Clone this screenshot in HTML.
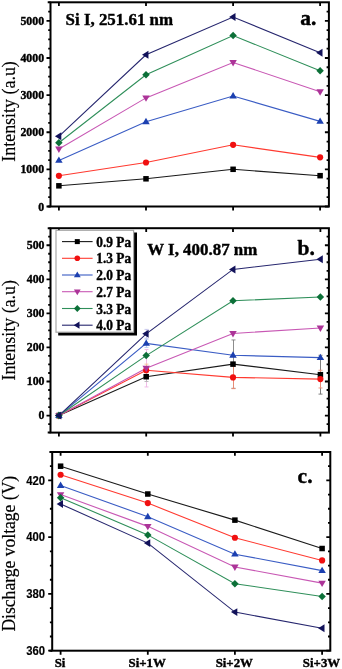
<!DOCTYPE html>
<html><head><meta charset="utf-8"><style>
html,body{margin:0;padding:0;background:#fff;width:342px;height:669px;overflow:hidden}
svg{display:block;will-change:transform}
.b{font-weight:bold;stroke:#000;stroke-width:0.4px;paint-order:stroke}
.r{stroke:#000;stroke-width:0.2px}
.bs{font-weight:bold;stroke:#000;stroke-width:0.15px}
</style></head><body>
<svg width="342" height="669" viewBox="0 0 342 669">
<rect width="342" height="669" fill="#fff"/>
<polyline points="58.90,185.82 146.00,178.80 233.10,169.30 320.10,175.68" fill="none" stroke="#1a1a1a" stroke-width="1.1"/>
<polyline points="58.90,175.80 146.00,162.50 233.10,144.83 320.10,157.34" fill="none" stroke="#ff3a30" stroke-width="1.1"/>
<polyline points="58.90,160.43 146.00,121.81 233.10,96.01 320.10,121.40" fill="none" stroke="#3a5cc4" stroke-width="1.1"/>
<polyline points="58.90,148.92 146.00,97.90 233.10,62.52 320.10,91.70" fill="none" stroke="#c858b4" stroke-width="1.1"/>
<polyline points="58.90,142.79 146.00,74.70 233.10,35.53 320.10,70.73" fill="none" stroke="#2f8f5a" stroke-width="1.1"/>
<polyline points="58.90,136.33 146.00,54.80 233.10,17.04 320.10,52.72" fill="none" stroke="#26266e" stroke-width="1.1"/>
<rect x="56.15" y="183.07" width="5.50" height="5.50" fill="#000000"/>
<rect x="143.25" y="176.05" width="5.50" height="5.50" fill="#000000"/>
<rect x="230.35" y="166.55" width="5.50" height="5.50" fill="#000000"/>
<rect x="317.35" y="172.93" width="5.50" height="5.50" fill="#000000"/>
<circle cx="58.90" cy="175.80" r="3.08" fill="#f01010"/>
<circle cx="146.00" cy="162.50" r="3.08" fill="#f01010"/>
<circle cx="233.10" cy="144.83" r="3.08" fill="#f01010"/>
<circle cx="320.10" cy="157.34" r="3.08" fill="#f01010"/>
<path d="M58.90,156.47 L62.64,162.85 L55.16,162.85Z" fill="#1c40b0"/>
<path d="M146.00,117.85 L149.74,124.23 L142.26,124.23Z" fill="#1c40b0"/>
<path d="M233.10,92.05 L236.84,98.43 L229.36,98.43Z" fill="#1c40b0"/>
<path d="M320.10,117.44 L323.84,123.82 L316.36,123.82Z" fill="#1c40b0"/>
<path d="M58.90,152.88 L62.64,146.50 L55.16,146.50Z" fill="#ac3498"/>
<path d="M146.00,101.86 L149.74,95.48 L142.26,95.48Z" fill="#ac3498"/>
<path d="M233.10,66.48 L236.84,60.10 L229.36,60.10Z" fill="#ac3498"/>
<path d="M320.10,95.66 L323.84,89.28 L316.36,89.28Z" fill="#ac3498"/>
<path d="M58.90,139.05 L62.64,142.79 L58.90,146.53 L55.16,142.79Z" fill="#0c7038"/>
<path d="M146.00,70.96 L149.74,74.70 L146.00,78.44 L142.26,74.70Z" fill="#0c7038"/>
<path d="M233.10,31.79 L236.84,35.53 L233.10,39.27 L229.36,35.53Z" fill="#0c7038"/>
<path d="M320.10,66.99 L323.84,70.73 L320.10,74.47 L316.36,70.73Z" fill="#0c7038"/>
<path d="M54.94,136.33 L61.32,132.37 L61.32,140.29Z" fill="#12125a"/>
<path d="M142.04,54.80 L148.42,50.84 L148.42,58.76Z" fill="#12125a"/>
<path d="M229.14,17.04 L235.52,13.08 L235.52,21.00Z" fill="#12125a"/>
<path d="M316.14,52.72 L322.52,48.76 L322.52,56.68Z" fill="#12125a"/>
<rect x="50.50" y="2.30" width="278.40" height="204.20" fill="none" stroke="#000" stroke-width="2.0"/>
<path d="M47.70,2.30H50.5M47.70,206.50H50.5" stroke="#000" stroke-width="2.0"/>
<path d="M58.90,206.50v4.0M58.90,2.30v3.7M146.00,206.50v4.0M146.00,2.30v3.7M233.10,206.50v4.0M233.10,2.30v3.7M320.10,206.50v4.0M320.10,2.30v3.7M50.50,206.50h-4.0M328.90,206.50h-4.0M50.50,169.37h-4.0M328.90,169.37h-4.0M50.50,132.25h-4.0M328.90,132.25h-4.0M50.50,95.12h-4.0M328.90,95.12h-4.0M50.50,57.99h-4.0M328.90,57.99h-4.0M50.50,20.86h-4.0M328.90,20.86h-4.0M50.50,197.22h-2.3M328.90,197.22h-2.3M50.50,187.94h-2.3M328.90,187.94h-2.3M50.50,178.65h-2.3M328.90,178.65h-2.3M50.50,160.09h-2.3M328.90,160.09h-2.3M50.50,150.81h-2.3M328.90,150.81h-2.3M50.50,141.53h-2.3M328.90,141.53h-2.3M50.50,122.96h-2.3M328.90,122.96h-2.3M50.50,113.68h-2.3M328.90,113.68h-2.3M50.50,104.40h-2.3M328.90,104.40h-2.3M50.50,85.84h-2.3M328.90,85.84h-2.3M50.50,76.55h-2.3M328.90,76.55h-2.3M50.50,67.27h-2.3M328.90,67.27h-2.3M50.50,48.71h-2.3M328.90,48.71h-2.3M50.50,39.43h-2.3M328.90,39.43h-2.3M50.50,30.15h-2.3M328.90,30.15h-2.3M50.50,11.58h-2.3M328.90,11.58h-2.3" stroke="#000" stroke-width="1.8" fill="none"/>
<text transform="translate(44.1,210.50) scale(0.92,1)" text-anchor="end" font-family='"Liberation Serif", serif' class="b" font-size="12.9">0</text>
<text transform="translate(44.1,173.37) scale(0.92,1)" text-anchor="end" font-family='"Liberation Serif", serif' class="b" font-size="12.9">1000</text>
<text transform="translate(44.1,136.25) scale(0.92,1)" text-anchor="end" font-family='"Liberation Serif", serif' class="b" font-size="12.9">2000</text>
<text transform="translate(44.1,99.12) scale(0.92,1)" text-anchor="end" font-family='"Liberation Serif", serif' class="b" font-size="12.9">3000</text>
<text transform="translate(44.1,61.99) scale(0.92,1)" text-anchor="end" font-family='"Liberation Serif", serif' class="b" font-size="12.9">4000</text>
<text transform="translate(44.1,24.86) scale(0.92,1)" text-anchor="end" font-family='"Liberation Serif", serif' class="b" font-size="12.9">5000</text>
<text transform="translate(14.95,111.45) rotate(-90) scale(0.91,1)" class="r" text-anchor="middle" font-family='"Liberation Serif", serif' font-size="19.7">Intensity (a.u)</text>
<text x="65.6" y="24.8" font-family='"Liberation Serif", serif' class="b" font-size="16.9">Si I, 251.61 nm</text>
<text x="300.3" y="24.8" font-family='"Liberation Serif", serif' class="b" font-size="21.5">a.</text>
<polyline points="58.90,415.57 146.20,376.73 233.00,364.13 320.40,374.69" fill="none" stroke="#1a1a1a" stroke-width="1.1"/>
<polyline points="58.90,415.57 146.20,370.26 233.00,377.41 320.40,379.12" fill="none" stroke="#ff3a30" stroke-width="1.1"/>
<polyline points="58.90,415.57 146.20,343.35 233.00,355.27 320.40,357.65" fill="none" stroke="#3a5cc4" stroke-width="1.1"/>
<polyline points="58.90,415.57 146.20,368.21 233.00,333.47 320.40,328.02" fill="none" stroke="#c858b4" stroke-width="1.1"/>
<polyline points="58.90,415.57 146.20,355.61 233.00,300.76 320.40,297.01" fill="none" stroke="#2f8f5a" stroke-width="1.1"/>
<polyline points="58.90,415.57 146.20,333.81 233.00,269.42 320.40,259.20" fill="none" stroke="#26266e" stroke-width="1.1"/>
<path d="M146.50,329.38V338.24M144.50,329.38h4M144.50,338.24h4" stroke="#c4c4ec" stroke-width="0.9" fill="none"/>
<path d="M146.50,339.26V347.43M144.50,339.26h4M144.50,347.43h4" stroke="#b8c8f0" stroke-width="0.9" fill="none"/>
<path d="M146.50,349.48V386.95M144.50,349.48h4M144.50,386.95h4" stroke="#eeb4e4" stroke-width="0.9" fill="none"/>
<path d="M146.50,364.13V376.39M144.50,364.13h4M144.50,376.39h4" stroke="#f8c098" stroke-width="0.9" fill="none"/>
<path d="M146.50,371.96V381.50M144.50,371.96h4M144.50,381.50h4" stroke="#b4b4b4" stroke-width="0.9" fill="none"/>
<path d="M233.50,339.94V388.31M231.50,339.94h4M231.50,388.31h4" stroke="#808080" stroke-width="0.9" fill="none"/>
<path d="M233.50,366.17V388.65M231.50,366.17h4M231.50,388.65h4" stroke="#f08c74" stroke-width="0.9" fill="none"/>
<path d="M320.50,355.27V394.10M318.50,355.27h4M318.50,394.10h4" stroke="#707070" stroke-width="0.9" fill="none"/>
<path d="M320.50,370.26V387.97M318.50,370.26h4M318.50,387.97h4" stroke="#f09078" stroke-width="0.9" fill="none"/>
<rect x="56.15" y="412.82" width="5.50" height="5.50" fill="#000000"/>
<rect x="143.45" y="373.98" width="5.50" height="5.50" fill="#000000"/>
<rect x="230.25" y="361.38" width="5.50" height="5.50" fill="#000000"/>
<rect x="317.65" y="371.94" width="5.50" height="5.50" fill="#000000"/>
<circle cx="58.90" cy="415.57" r="3.08" fill="#f01010"/>
<circle cx="146.20" cy="370.26" r="3.08" fill="#f01010"/>
<circle cx="233.00" cy="377.41" r="3.08" fill="#f01010"/>
<circle cx="320.40" cy="379.12" r="3.08" fill="#f01010"/>
<path d="M58.90,411.61 L62.64,417.99 L55.16,417.99Z" fill="#1c40b0"/>
<path d="M146.20,339.39 L149.94,345.77 L142.46,345.77Z" fill="#1c40b0"/>
<path d="M233.00,351.31 L236.74,357.69 L229.26,357.69Z" fill="#1c40b0"/>
<path d="M320.40,353.69 L324.14,360.07 L316.66,360.07Z" fill="#1c40b0"/>
<path d="M58.90,419.53 L62.64,413.15 L55.16,413.15Z" fill="#ac3498"/>
<path d="M146.20,372.17 L149.94,365.79 L142.46,365.79Z" fill="#ac3498"/>
<path d="M233.00,337.43 L236.74,331.05 L229.26,331.05Z" fill="#ac3498"/>
<path d="M320.40,331.98 L324.14,325.60 L316.66,325.60Z" fill="#ac3498"/>
<path d="M58.90,411.83 L62.64,415.57 L58.90,419.31 L55.16,415.57Z" fill="#0c7038"/>
<path d="M146.20,351.87 L149.94,355.61 L146.20,359.35 L142.46,355.61Z" fill="#0c7038"/>
<path d="M233.00,297.02 L236.74,300.76 L233.00,304.50 L229.26,300.76Z" fill="#0c7038"/>
<path d="M320.40,293.27 L324.14,297.01 L320.40,300.75 L316.66,297.01Z" fill="#0c7038"/>
<path d="M54.94,415.57 L61.32,411.61 L61.32,419.53Z" fill="#12125a"/>
<path d="M142.24,333.81 L148.62,329.85 L148.62,337.77Z" fill="#12125a"/>
<path d="M229.04,269.42 L235.42,265.46 L235.42,273.38Z" fill="#12125a"/>
<path d="M316.44,259.20 L322.82,255.24 L322.82,263.16Z" fill="#12125a"/>
<rect x="50.50" y="228.20" width="278.40" height="204.40" fill="none" stroke="#000" stroke-width="2.0"/>
<path d="M47.70,228.20H50.5M47.70,432.60H50.5" stroke="#000" stroke-width="2.0"/>
<path d="M58.90,432.60v4.0M58.90,228.20v3.7M146.20,432.60v4.0M146.20,228.20v3.7M233.00,432.60v4.0M233.00,228.20v3.7M320.40,432.60v4.0M320.40,228.20v3.7M50.50,415.57h-4.0M328.90,415.57h-4.0M50.50,381.50h-4.0M328.90,381.50h-4.0M50.50,347.43h-4.0M328.90,347.43h-4.0M50.50,313.37h-4.0M328.90,313.37h-4.0M50.50,279.30h-4.0M328.90,279.30h-4.0M50.50,245.23h-4.0M328.90,245.23h-4.0M50.50,424.08h-2.3M328.90,424.08h-2.3M50.50,407.05h-2.3M328.90,407.05h-2.3M50.50,398.53h-2.3M328.90,398.53h-2.3M50.50,390.02h-2.3M328.90,390.02h-2.3M50.50,372.98h-2.3M328.90,372.98h-2.3M50.50,364.47h-2.3M328.90,364.47h-2.3M50.50,355.95h-2.3M328.90,355.95h-2.3M50.50,338.92h-2.3M328.90,338.92h-2.3M50.50,330.40h-2.3M328.90,330.40h-2.3M50.50,321.88h-2.3M328.90,321.88h-2.3M50.50,304.85h-2.3M328.90,304.85h-2.3M50.50,296.33h-2.3M328.90,296.33h-2.3M50.50,287.82h-2.3M328.90,287.82h-2.3M50.50,270.78h-2.3M328.90,270.78h-2.3M50.50,262.27h-2.3M328.90,262.27h-2.3M50.50,253.75h-2.3M328.90,253.75h-2.3M50.50,236.72h-2.3M328.90,236.72h-2.3" stroke="#000" stroke-width="1.8" fill="none"/>
<text transform="translate(44.5,419.27) scale(0.92,1)" text-anchor="end" font-family='"Liberation Serif", serif' class="b" font-size="12.9">0</text>
<text transform="translate(44.5,385.20) scale(0.92,1)" text-anchor="end" font-family='"Liberation Serif", serif' class="b" font-size="12.9">100</text>
<text transform="translate(44.5,351.13) scale(0.92,1)" text-anchor="end" font-family='"Liberation Serif", serif' class="b" font-size="12.9">200</text>
<text transform="translate(44.5,317.07) scale(0.92,1)" text-anchor="end" font-family='"Liberation Serif", serif' class="b" font-size="12.9">300</text>
<text transform="translate(44.5,283.00) scale(0.92,1)" text-anchor="end" font-family='"Liberation Serif", serif' class="b" font-size="12.9">400</text>
<text transform="translate(44.5,248.93) scale(0.92,1)" text-anchor="end" font-family='"Liberation Serif", serif' class="b" font-size="12.9">500</text>
<text transform="translate(14.9,330.3) rotate(-90) scale(0.91,1)" class="r" text-anchor="middle" font-family='"Liberation Serif", serif' font-size="19.7">Intensity (a.u)</text>
<text x="147.3" y="254.9" font-family='"Liberation Serif", serif' class="b" font-size="16.9">W I, 400.87 nm</text>
<text x="297.6" y="255.3" font-family='"Liberation Serif", serif' class="b" font-size="21.5">b.</text>
<polyline points="60.60,466.19 147.80,494.01 234.90,520.13 322.10,548.51" fill="none" stroke="#1a1a1a" stroke-width="1.1"/>
<polyline points="60.60,474.71 147.80,503.09 234.90,537.72 322.10,560.43" fill="none" stroke="#ff3a30" stroke-width="1.1"/>
<polyline points="60.60,485.50 147.80,516.72 234.90,554.19 322.10,570.65" fill="none" stroke="#3a5cc4" stroke-width="1.1"/>
<polyline points="60.60,494.58 147.80,526.37 234.90,566.96 322.10,583.14" fill="none" stroke="#c858b4" stroke-width="1.1"/>
<polyline points="60.60,497.70 147.80,534.89 234.90,583.71 322.10,596.48" fill="none" stroke="#2f8f5a" stroke-width="1.1"/>
<polyline points="60.60,503.95 147.80,543.12 234.90,612.10 322.10,628.28" fill="none" stroke="#26266e" stroke-width="1.1"/>
<rect x="57.85" y="463.44" width="5.50" height="5.50" fill="#000000"/>
<rect x="145.05" y="491.26" width="5.50" height="5.50" fill="#000000"/>
<rect x="232.15" y="517.38" width="5.50" height="5.50" fill="#000000"/>
<rect x="319.35" y="545.76" width="5.50" height="5.50" fill="#000000"/>
<circle cx="60.60" cy="474.71" r="3.08" fill="#f01010"/>
<circle cx="147.80" cy="503.09" r="3.08" fill="#f01010"/>
<circle cx="234.90" cy="537.72" r="3.08" fill="#f01010"/>
<circle cx="322.10" cy="560.43" r="3.08" fill="#f01010"/>
<path d="M60.60,481.54 L64.34,487.92 L56.86,487.92Z" fill="#1c40b0"/>
<path d="M147.80,512.76 L151.54,519.14 L144.06,519.14Z" fill="#1c40b0"/>
<path d="M234.90,550.23 L238.64,556.61 L231.16,556.61Z" fill="#1c40b0"/>
<path d="M322.10,566.69 L325.84,573.07 L318.36,573.07Z" fill="#1c40b0"/>
<path d="M60.60,498.54 L64.34,492.16 L56.86,492.16Z" fill="#ac3498"/>
<path d="M147.80,530.33 L151.54,523.95 L144.06,523.95Z" fill="#ac3498"/>
<path d="M234.90,570.92 L238.64,564.54 L231.16,564.54Z" fill="#ac3498"/>
<path d="M322.10,587.10 L325.84,580.72 L318.36,580.72Z" fill="#ac3498"/>
<path d="M60.60,493.96 L64.34,497.70 L60.60,501.44 L56.86,497.70Z" fill="#0c7038"/>
<path d="M147.80,531.15 L151.54,534.89 L147.80,538.63 L144.06,534.89Z" fill="#0c7038"/>
<path d="M234.90,579.97 L238.64,583.71 L234.90,587.45 L231.16,583.71Z" fill="#0c7038"/>
<path d="M322.10,592.74 L325.84,596.48 L322.10,600.22 L318.36,596.48Z" fill="#0c7038"/>
<path d="M56.64,503.95 L63.02,499.99 L63.02,507.91Z" fill="#12125a"/>
<path d="M143.84,543.12 L150.22,539.16 L150.22,547.08Z" fill="#12125a"/>
<path d="M230.94,612.10 L237.32,608.14 L237.32,616.06Z" fill="#12125a"/>
<path d="M318.14,628.28 L324.52,624.32 L324.52,632.24Z" fill="#12125a"/>
<rect x="52.20" y="452.00" width="278.10" height="198.70" fill="none" stroke="#000" stroke-width="2.0"/>
<path d="M49.40,452.00H52.2M49.40,650.70H52.2" stroke="#000" stroke-width="2.0"/>
<path d="M60.60,650.70v4.0M60.60,452.00v3.7M147.80,650.70v4.0M147.80,452.00v3.7M234.90,650.70v4.0M234.90,452.00v3.7M322.10,650.70v4.0M322.10,452.00v3.7M52.20,650.70h-4.0M330.30,650.70h-4.0M52.20,593.93h-4.0M330.30,593.93h-4.0M52.20,537.16h-4.0M330.30,537.16h-4.0M52.20,480.39h-4.0M330.30,480.39h-4.0M52.20,636.51h-2.3M330.30,636.51h-2.3M52.20,622.31h-2.3M330.30,622.31h-2.3M52.20,608.12h-2.3M330.30,608.12h-2.3M52.20,579.74h-2.3M330.30,579.74h-2.3M52.20,565.54h-2.3M330.30,565.54h-2.3M52.20,551.35h-2.3M330.30,551.35h-2.3M52.20,522.96h-2.3M330.30,522.96h-2.3M52.20,508.77h-2.3M330.30,508.77h-2.3M52.20,494.58h-2.3M330.30,494.58h-2.3M52.20,466.19h-2.3M330.30,466.19h-2.3" stroke="#000" stroke-width="1.8" fill="none"/>
<text transform="translate(45.0,655.00) scale(0.95,1)" text-anchor="end" font-family='"Liberation Sans", sans-serif' class="bs" font-size="11.9">360</text>
<text transform="translate(45.0,598.23) scale(0.95,1)" text-anchor="end" font-family='"Liberation Sans", sans-serif' class="bs" font-size="11.9">380</text>
<text transform="translate(45.0,541.46) scale(0.95,1)" text-anchor="end" font-family='"Liberation Sans", sans-serif' class="bs" font-size="11.9">400</text>
<text transform="translate(45.0,484.69) scale(0.95,1)" text-anchor="end" font-family='"Liberation Sans", sans-serif' class="bs" font-size="11.9">420</text>
<text transform="translate(14.8,553.7) rotate(-90) scale(0.893,1)" class="r" text-anchor="middle" font-family='"Liberation Serif", serif' font-size="19.7">Discharge voltage (V)</text>
<text x="297.6" y="482.6" font-family='"Liberation Serif", serif' class="b" font-size="21.5">c.</text>
<rect x="58.2" y="232.5" width="78.8" height="103.0" fill="#000"/>
<rect x="56.0" y="230.3" width="77.6" height="101.89999999999998" fill="#fff" stroke="#a8a8a8" stroke-width="1.2"/>
<line x1="62" y1="241.6" x2="92.6" y2="241.6" stroke="#1a1a1a" stroke-width="1.1"/>
<rect x="74.80" y="239.10" width="5.00" height="5.00" fill="#000000"/>
<text transform="translate(96.3,246.60) scale(0.93,1)" font-family='"Liberation Serif", serif' class="b" font-size="14.4">0.9 Pa</text>
<line x1="62" y1="258.3" x2="92.6" y2="258.3" stroke="#ff3a30" stroke-width="1.1"/>
<circle cx="77.30" cy="258.30" r="2.80" fill="#f01010"/>
<text transform="translate(96.3,263.30) scale(0.93,1)" font-family='"Liberation Serif", serif' class="b" font-size="14.4">1.3 Pa</text>
<line x1="62" y1="275.0" x2="92.6" y2="275.0" stroke="#3a5cc4" stroke-width="1.1"/>
<path d="M77.30,271.40 L80.70,277.20 L73.90,277.20Z" fill="#1c40b0"/>
<text transform="translate(96.3,280.00) scale(0.93,1)" font-family='"Liberation Serif", serif' class="b" font-size="14.4">2.0 Pa</text>
<line x1="62" y1="291.7" x2="92.6" y2="291.7" stroke="#c858b4" stroke-width="1.1"/>
<path d="M77.30,295.30 L80.70,289.50 L73.90,289.50Z" fill="#ac3498"/>
<text transform="translate(96.3,296.70) scale(0.93,1)" font-family='"Liberation Serif", serif' class="b" font-size="14.4">2.7 Pa</text>
<line x1="62" y1="308.5" x2="92.6" y2="308.5" stroke="#2f8f5a" stroke-width="1.1"/>
<path d="M77.30,305.10 L80.70,308.50 L77.30,311.90 L73.90,308.50Z" fill="#0c7038"/>
<text transform="translate(96.3,313.50) scale(0.93,1)" font-family='"Liberation Serif", serif' class="b" font-size="14.4">3.3 Pa</text>
<line x1="62" y1="325.2" x2="92.6" y2="325.2" stroke="#26266e" stroke-width="1.1"/>
<path d="M73.70,325.20 L79.50,321.60 L79.50,328.80Z" fill="#12125a"/>
<text transform="translate(96.3,330.20) scale(0.93,1)" font-family='"Liberation Serif", serif' class="b" font-size="14.4">4.0 Pa</text>
<text transform="translate(60.0,666.8) scale(0.96,1)" text-anchor="middle" font-family='"Liberation Serif", serif' class="b" font-size="13.4">Si</text>
<text transform="translate(147.20000000000002,666.8) scale(0.96,1)" text-anchor="middle" font-family='"Liberation Serif", serif' class="b" font-size="13.4">Si+1W</text>
<text transform="translate(234.3,666.8) scale(0.96,1)" text-anchor="middle" font-family='"Liberation Serif", serif' class="b" font-size="13.4">Si+2W</text>
<text transform="translate(321.5,666.8) scale(0.96,1)" text-anchor="middle" font-family='"Liberation Serif", serif' class="b" font-size="13.4">Si+3W</text>
</svg>
</body></html>
